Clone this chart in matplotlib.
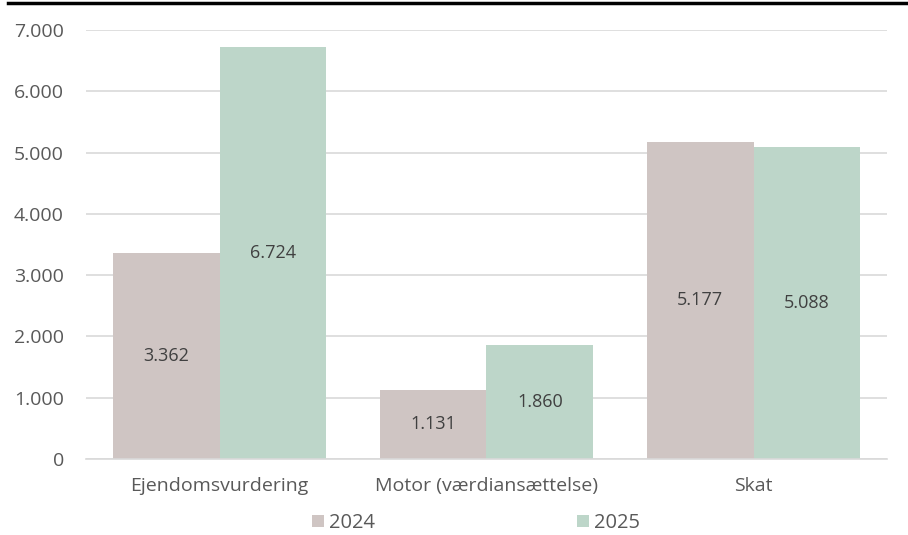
import matplotlib.pyplot as plt
import numpy as np

categories = ["Ejendomsvurdering", "Motor (værdiansættelse)", "Skat"]
years = ["2024", "2025"]
values_2024 = [3362, 1131, 5177]
values_2025 = [6724, 1860, 5088]
yticks = [0, 1000, 2000, 3000, 4000, 5000, 6000, 7000]

colors = ["#cfc5c3", "#bdd6c9"]
text_col = "#595959"
plt.rcParams['font.family'] = ['Open Sans', 'DejaVu Sans']


def fmt(v):
    # danish thousands separator
    return f"{v:,}".replace(",", ".")


fig = plt.figure(figsize=(9.08, 5.35), dpi=100)
ax = fig.add_axes([86 / 908, 1 - 459 / 535, 801 / 908, 429 / 535])

x = np.arange(len(categories))
w = 0.4
series = [values_2024, values_2025]
for i, vals in enumerate(series):
    pos = x + (i - 0.5) * w
    bars = ax.bar(pos, vals, width=w, color=colors[i], label=years[i], zorder=2)
    for b, v in zip(bars, vals):
        ax.text(b.get_x() + b.get_width() / 2, v / 2, fmt(v), ha="center",
                va="center", fontsize=13, color="#404040")

ax.set_xlim(-0.5, len(categories) - 0.5)
ax.set_ylim(0, 7000)
ax.set_yticks(yticks)
ax.set_yticklabels([fmt(t) for t in yticks])
ax.set_xticks(x)
ax.set_xticklabels(categories)
ax.tick_params(axis="both", length=0, colors=text_col, labelsize=14)
ax.tick_params(axis="y", pad=16)
ax.tick_params(axis="x", pad=13)
ax.grid(axis="y", color="#d9d9d9", lw=1.2, zorder=0)
for s in ["top", "right", "left"]:
    ax.spines[s].set_visible(False)
ax.spines["bottom"].set_color("#d9d9d9")
ax.spines["bottom"].set_linewidth(1.2)

leg = fig.legend(loc="center", bbox_to_anchor=(476 / 908, 1 - 523 / 535), ncol=2,
                 frameon=False, fontsize=14.5, handlelength=0.6, handleheight=0.6,
                 columnspacing=10, handletextpad=0.25)
for t in leg.get_texts():
    t.set_color(text_col)

# black rule across the top
fig.add_artist(plt.Line2D([8 / 908, 1], [1 - 3 / 535, 1 - 3 / 535], color="black", lw=2.5))

fig.savefig("out.png", dpi=100)
